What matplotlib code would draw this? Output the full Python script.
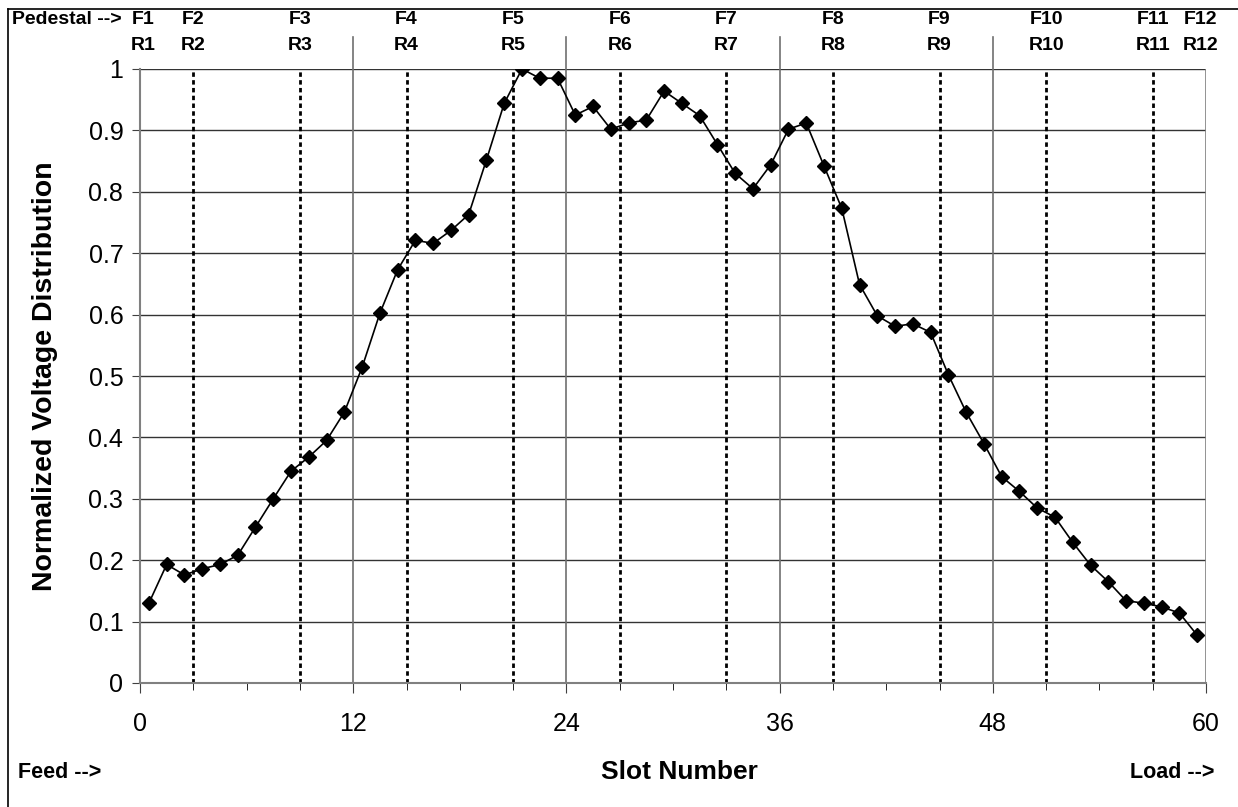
import matplotlib
matplotlib.use("Agg")
import matplotlib.pyplot as plt
import matplotlib.transforms as mtransforms
from matplotlib.lines import Line2D

plt.rcParams["font.family"] = ["Liberation Sans", "DejaVu Sans"]

# Slot centres and normalized voltage.
slots = [i + 0.5 for i in range(60)]
voltage = [
    0.130, 0.193, 0.176, 0.186, 0.193, 0.208, 0.254, 0.300, 0.345, 0.368,
    0.395, 0.441, 0.514, 0.602, 0.673, 0.721, 0.716, 0.737, 0.763, 0.852,
    0.944, 1.000, 0.985, 0.985, 0.925, 0.939, 0.902, 0.912, 0.917, 0.964,
    0.944, 0.924, 0.877, 0.830, 0.805, 0.844, 0.902, 0.912, 0.842, 0.773,
    0.649, 0.598, 0.581, 0.585, 0.571, 0.502, 0.441, 0.390, 0.336, 0.312,
    0.285, 0.270, 0.229, 0.192, 0.165, 0.134, 0.130, 0.124, 0.114, 0.078,
]

# Section boundaries (solid) and F/R marker positions (dotted).
sections = [12, 24, 36, 48]
markers_pos = [3, 9, 15, 21, 27, 33, 39, 45, 51, 57]
label_pos = [0.2, 3, 9, 15, 21, 27, 33, 39, 45, 51, 57, 59.7]
f_labels = [f"F{i}" for i in range(1, 13)]
r_labels = [f"R{i}" for i in range(1, 13)]

W, H = 1238, 807
fig = plt.figure(figsize=(W / 100, H / 100), dpi=100)
ax = fig.add_axes([140 / W, 1 - 683 / H, (1206 - 140) / W, (683 - 69) / H])

# outer frame (left + top edge visible)
fig.add_artist(Line2D([8 / W, 8 / W], [0, 1 - 9 / H], color="black", lw=1.2))
fig.add_artist(Line2D([8 / W, 1], [1 - 9 / H, 1 - 9 / H], color="black", lw=1.2))

for yv in [i / 10 for i in range(1, 11)]:
    ax.axhline(yv, color="#333333", lw=1.0, zorder=1)

for xv in sections:
    ax.plot([xv, xv], [0, 1.052], color="#707070", lw=1.2, clip_on=False, zorder=1)
ax.axvline(60, color="#808080", lw=1.2, zorder=1)

for xv in markers_pos:
    ax.plot([xv, xv], [0, 1], color="black", lw=2.0, dashes=(1.6, 1.2), zorder=2)

ax.plot(slots, voltage, color="black", lw=1.2, marker="D", markersize=7, zorder=3)

ax.set_xlim(0, 60)
ax.set_ylim(0, 1)
ax.set_xticks([0, 12, 24, 36, 48, 60])
ax.set_xticks(range(0, 61, 3), minor=True)
ax.set_yticks([i / 10 for i in range(11)])
ax.set_yticklabels(["0", "0.1", "0.2", "0.3", "0.4", "0.5", "0.6", "0.7", "0.8", "0.9", "1"])
ax.tick_params(axis="both", labelsize=18, color="#404040")
ax.tick_params(axis="x", which="major", length=7, pad=14)
ax.tick_params(axis="x", which="minor", length=5)
ax.tick_params(axis="y", length=6, pad=6)

for s in ["top", "right"]:
    ax.spines[s].set_visible(False)
for s in ["left", "bottom"]:
    ax.spines[s].set_color("#808080")
    ax.spines[s].set_linewidth(1.5)

ax.set_ylabel("Normalized Voltage Distribution", fontsize=20.5, fontweight="bold", labelpad=22)

# top F/R labels
tr = mtransforms.blended_transform_factory(ax.transData, fig.transFigure)
for xv, f, r in zip(label_pos, f_labels, r_labels):
    ax.text(xv, 1 - 20 / H, f, transform=tr, ha="center", va="center",
            fontsize=14, fontweight="bold")
    ax.text(xv, 1 - 46 / H, r, transform=tr, ha="center", va="center",
            fontsize=14, fontweight="bold")
fig.text(12 / W, 1 - 20 / H, "Pedestal -->", ha="left", va="center",
         fontsize=14, fontweight="bold")

fig.text(679 / W, 1 - 772 / H, "Slot Number", ha="center", va="center",
         fontsize=19, fontweight="bold")
fig.text(18 / W, 1 - 772 / H, "Feed -->", ha="left", va="center",
         fontsize=15.5, fontweight="bold")
fig.text(1130 / W, 1 - 772 / H, "Load -->", ha="left", va="center",
         fontsize=15.5, fontweight="bold")

fig.savefig("out.png", dpi=100, facecolor="white")
